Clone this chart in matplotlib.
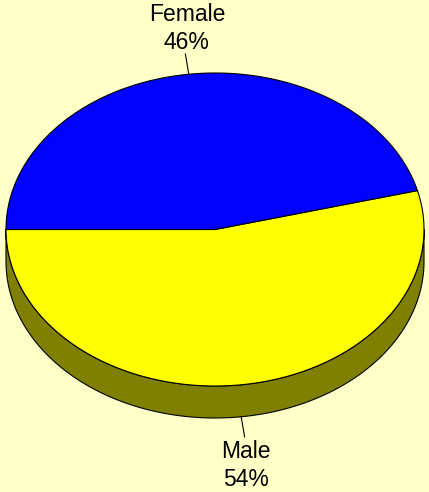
import numpy as np
import matplotlib
matplotlib.use('Agg')
import matplotlib.pyplot as plt
from matplotlib.patches import Polygon

labels = ['Male', 'Female']
values = [54, 46]
top_colors = ['#FFFF00', '#0000FF']
side_colors = ['#808000', '#000080']

bg = '#FFFFC8'
cx, cy = 215.0, 229.5      # pie centre in pixels
a, b = 209.0, 156.5        # ellipse semi-axes
depth = 32.0
start = 180.0              # first slice starts at 9 o'clock, goes counter-clockwise

fig = plt.figure(figsize=(4.29, 4.92), dpi=100, facecolor=bg)
ax = fig.add_axes([0, 0, 1, 1])
ax.set_xlim(0, 429)
ax.set_ylim(492, 0)
ax.axis('off')
ax.set_facecolor(bg)


def pt(t, dz=0.0, k=1.0):
    t = np.radians(t)
    return cx + k * a * np.cos(t), cy - k * b * np.sin(t) + dz


total = float(sum(values))
angles = [start]
for v in values:
    angles.append(angles[-1] + 360.0 * v / total)

# side wall (only the front half, 180..360 deg, is visible)
for i in range(len(values)):
    t0, t1 = angles[i], angles[i + 1]
    lo, hi = max(t0, 180.0), min(t1, 360.0)
    if hi <= lo:
        continue
    ts = np.linspace(lo, hi, 200)
    xs, ys = pt(ts)
    xb, yb = pt(ts[::-1], depth)
    poly = np.column_stack([np.r_[xs, xb], np.r_[ys, yb]])
    ax.add_patch(Polygon(poly, closed=True, facecolor=side_colors[i],
                         edgecolor='black', lw=0.8, zorder=1))

# top faces
for i in range(len(values)):
    ts = np.linspace(angles[i], angles[i + 1], 300)
    xs, ys = pt(ts)
    poly = np.column_stack([np.r_[cx, xs], np.r_[cy, ys]])
    ax.add_patch(Polygon(poly, closed=True, facecolor=top_colors[i],
                         edgecolor='black', lw=0.8, zorder=2))

# labels with leader lines
for i in range(len(values)):
    mid = (angles[i] + angles[i + 1]) / 2.0
    front = np.sin(np.radians(mid)) < 0
    dz = depth if front else 0.0
    x0, y0 = pt(mid, dz)
    x1, y1 = pt(mid, dz, 1.13)
    ax.plot([x0, x1], [y0, y1], color='black', lw=0.8, zorder=3)
    txt = '%s\n%d%%' % (labels[i], round(100 * values[i] / total))
    ax.text(x1 + 1.5, y1 + (3 if front else 0), txt, ha='center',
            va='top' if front else 'bottom', fontsize=16.5,
            family='Liberation Sans', linespacing=1.3, color='black')

plt.savefig('out.png', dpi=100, facecolor=bg)
